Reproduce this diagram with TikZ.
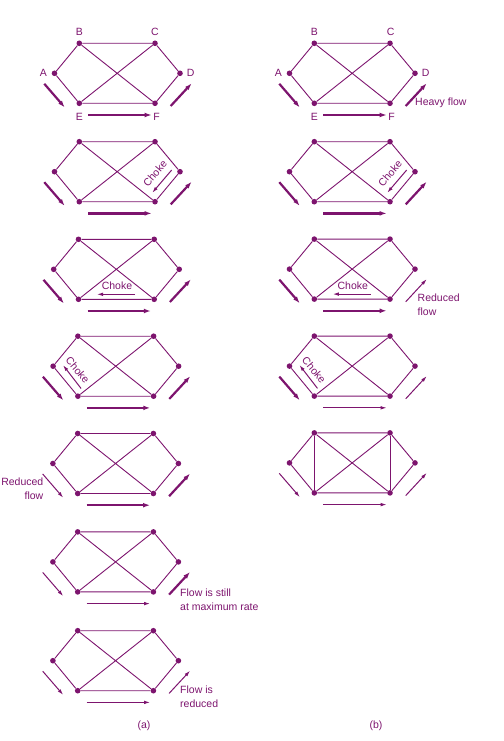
\documentclass[tikz,border=0pt]{standalone}
\usepackage{fontspec}
\setmainfont{Liberation Sans}
\usetikzlibrary{arrows.meta}
\definecolor{pur}{RGB}{125,20,110}
\tikzset{
  dot/.style={circle,fill=pur,inner sep=0pt,minimum size=5.6pt},
  link/.style={draw=pur,line width=0.9pt},
  heavy/.style={draw=pur,line width=2.2pt,-{Latex[length=7pt,width=4.8pt]}},
  light/.style={draw=pur,line width=1pt,-{Latex[length=6pt,width=3.6pt]}},
  lbl/.style={text=pur,font=\fontsize{10.5}{14}\selectfont,inner sep=0pt},
}
% #1 prefix, #2 x of B, #3 y of B, #4 A-E style, #5 E-F style, #6 F-D style, #7 extra
\newcommand\netg[7]{%
\begin{scope}[shift={(#2,#3)}]
  \node[dot] (#1A) at (-24.8,30) {};
  \node[dot] (#1B) at (0,0) {};
  \node[dot] (#1C) at (75.7,0) {};
  \node[dot] (#1D) at (100.7,30) {};
  \node[dot] (#1E) at (0,60) {};
  \node[dot] (#1F) at (75.7,60) {};
  \draw[link] (#1A)--(#1B)--(#1C)--(#1D)--(#1F)--(#1E)--(#1A);
  \draw[link] (#1B)--(#1F) (#1C)--(#1E);
  \coordinate (#1s1) at (-35,40.5);
  \coordinate (#1e1) at (-14.5,64.2);
  \coordinate (#1s2) at (9,71.7);
  \coordinate (#1e2) at (72.4,71.7);
  \coordinate (#1s3) at (91.4,62.7);
  \coordinate (#1e3) at (112.4,40);
  \draw[#4] (#1s1) -- (#1e1);
  \draw[#5] (#1s2) -- (#1e2);
  \draw[#6] (#1s3) -- (#1e3);
  #7
\end{scope}}
% choke near F (on D-F)
\newcommand\chokeF[1]{%
  \coordinate (#1cs) at (92.4,28.3);
  \coordinate (#1ce) at (73,51);
  \draw[light] (#1cs) -- (#1ce);
  \node[lbl,rotate=50] (#1ct) at (75.7,31.6) {Choke};}
% choke near E (on E-F)
\newcommand\chokeE[1]{%
  \coordinate (#1cs) at (56.5,55);
  \coordinate (#1ce) at (18.5,55);
  \draw[light] (#1cs) -- (#1ce);
  \node[lbl] (#1ct) at (38.5,46.8) {Choke};}
% choke near A (on A-E)
\newcommand\chokeA[1]{%
  \coordinate (#1cs) at (3.2,52.3);
  \coordinate (#1ce) at (-14.8,29);
  \draw[light] (#1cs) -- (#1ce);
  \node[lbl,rotate=-50] (#1ct) at (-0.2,34) {Choke};}
\begin{document}
\begin{tikzpicture}[x=1pt,y=-1pt]
\useasboundingbox (0,0) rectangle (503,741);
% ---------- column (a) ----------
\netg{a1}{79.3}{43.3}{heavy}{heavy}{heavy}{
  \node[lbl] (a1lA) at (-36,29.4) {A};
  \node[lbl] (a1lB) at (0,-11.6) {B};
  \node[lbl] (a1lC) at (75.7,-11.6) {C};
  \node[lbl] (a1lD) at (111.4,30) {D};
  \node[lbl] (a1lE) at (0,73.4) {E};
  \node[lbl] (a1lF) at (77.4,73.4) {F};
}
\netg{a2}{79.3}{141.7}{heavy}{heavy}{heavy}{\chokeF{a2}}
\netg{a3}{78.5}{239.3}{heavy}{heavy}{heavy}{\chokeE{a3}}
\netg{a4}{77.9}{336.2}{heavy}{heavy}{heavy}{\chokeA{a4}}
\netg{a5}{77.7}{433.5}{light}{heavy}{heavy}{}
\netg{a6}{77.7}{531.9}{light}{light}{heavy}{}
\netg{a7}{77.7}{630.7}{light}{light}{light}{}
\node[lbl,anchor=east,align=right] (t5) at (43.5,489.2) {Reduced\\flow};
\node[lbl,anchor=west,align=left] (t6) at (180,599.7) {Flow is still\\at maximum rate};
\node[lbl,anchor=west,align=left] (t7) at (180,696.5) {Flow is\\reduced};
\node[lbl] (capa) at (144,726) {(a)};
% ---------- column (b) ----------
\netg{b1}{314.3}{43.3}{heavy}{heavy}{heavy}{
  \node[lbl] (b1lA) at (-36,29.4) {A};
  \node[lbl] (b1lB) at (0,-11.6) {B};
  \node[lbl] (b1lC) at (76.4,-11.6) {C};
  \node[lbl] (b1lD) at (111.4,30) {D};
  \node[lbl] (b1lE) at (0,73.4) {E};
  \node[lbl] (b1lF) at (77.4,73.4) {F};
}
\netg{b2}{314.3}{141.7}{heavy}{heavy}{heavy}{\chokeF{b2}}
\netg{b3}{314.3}{239.1}{heavy}{heavy}{light}{\chokeE{b3}}
\netg{b4}{314.3}{336.1}{heavy}{light}{light}{\chokeA{b4}}
\netg{b5}{314.3}{432.9}{light}{light}{light}{
  \draw[link] (b5B) -- (b5E) (b5C) -- (b5F);
}
\node[lbl,anchor=west] (th) at (415,102.7) {Heavy flow};
\node[lbl,anchor=west,align=left] (tr) at (417.5,305) {Reduced\\flow};
\node[lbl] (capb) at (376,726) {(b)};
\end{tikzpicture}
\end{document}
